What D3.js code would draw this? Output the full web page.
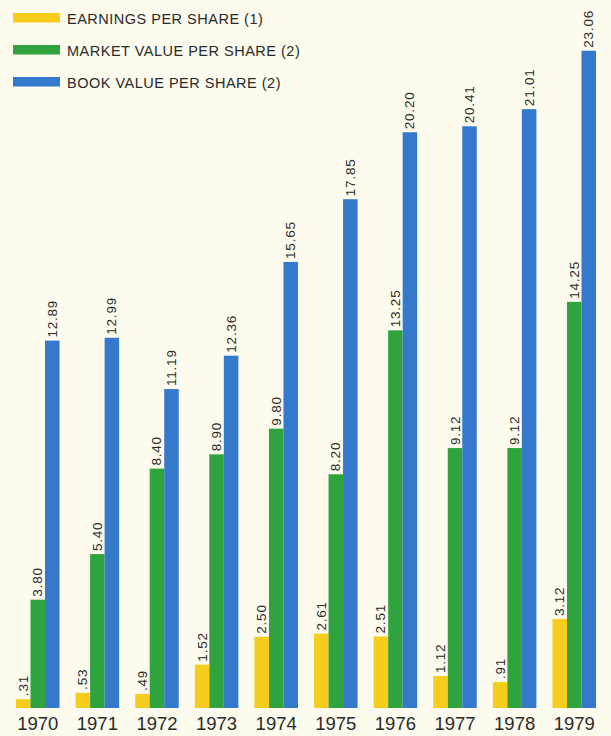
<!DOCTYPE html>
<html>
<head>
<meta charset="utf-8">
<script src="https://cdn.jsdelivr.net/npm/d3@7"></script>
<style>
  html, body { margin: 0; padding: 0; background: #fcfbee; }
  svg { display: block; }
  text { font-family: "Liberation Sans", Arial, Helvetica, sans-serif; fill: #2a2a2a; }
</style>
</head>
<body>
<svg id="chart" width="611" height="736"></svg>
<script>
// Per-share figures, 1970–1979
const years = ["1970", "1971", "1972", "1973", "1974", "1975", "1976", "1977", "1978", "1979"];
const earnings = [0.31, 0.53, 0.49, 1.52, 2.50, 2.61, 2.51, 1.12, 0.91, 3.12];
const marketValue = [3.80, 5.40, 8.40, 8.90, 9.80, 8.20, 13.25, 9.12, 9.12, 14.25];
const bookValue = [12.89, 12.99, 11.19, 12.36, 15.65, 17.85, 20.20, 20.41, 21.01, 23.06];
const earningsLabels = [".31", ".53", ".49", "1.52", "2.50", "2.61", "2.51", "1.12", ".91", "3.12"];
const marketLabels = ["3.80", "5.40", "8.40", "8.90", "9.80", "8.20", "13.25", "9.12", "9.12", "14.25"];
const bookLabels = ["12.89", "12.99", "11.19", "12.36", "15.65", "17.85", "20.20", "20.41", "21.01", "23.06"];
const seriesNames = ["EARNINGS PER SHARE (1)", "MARKET VALUE PER SHARE (2)", "BOOK VALUE PER SHARE (2)"];
const seriesColors = ["#f6cd1c", "#2ea33e", "#3479cb"];

const series = [
  { name: seriesNames[0], values: earnings, labels: earningsLabels, color: seriesColors[0] },
  { name: seriesNames[1], values: marketValue, labels: marketLabels, color: seriesColors[1] },
  { name: seriesNames[2], values: bookValue, labels: bookLabels, color: seriesColors[2] }
];

const svg = d3.select("#chart");
const baseline = 708;

const x0 = d3.scaleBand().domain(years).range([16, 596]).paddingInner(0.27).paddingOuter(0);
const x1 = d3.scaleBand().domain(d3.range(series.length)).range([0, x0.bandwidth()]).padding(0);
const y = d3.scaleLinear().domain([0, 24.84]).range([baseline, 0]);

const groups = svg.append("g").selectAll("g")
  .data(years)
  .join("g")
  .attr("transform", d => `translate(${x0(d)},0)`);

groups.each(function (yr, i) {
  const g = d3.select(this);
  series.forEach((s, k) => {
    const v = s.values[i];
    g.append("rect")
      .attr("x", x1(k))
      .attr("y", y(v))
      .attr("width", x1.bandwidth())
      .attr("height", y(0) - y(v))
      .attr("fill", s.color);
    const cx = x1(k) + x1.bandwidth() / 2;
    g.append("text")
      .attr("transform", `translate(${cx + 4.5},${y(v) - 3}) rotate(-90)`)
      .attr("text-anchor", "start")
      .style("font-size", "13.5px")
      .style("letter-spacing", "0.8px")
      .text(s.labels[i]);
  });
});

// Year axis beneath the baseline
const xAxis = d3.axisBottom(x0).tickSize(0).tickPadding(0);
const axisG = svg.append("g")
  .attr("transform", `translate(0,${baseline + 9})`)
  .call(xAxis);
axisG.select(".domain").remove();
axisG.selectAll("text")
  .attr("dy", "0.71em")
  .style("font-size", "18.5px")
  .attr("fill", "#2a2a2a");

// Legend
const legend = svg.append("g").selectAll("g")
  .data(series)
  .join("g")
  .attr("transform", (d, i) => `translate(13,${13 + i * 32})`);
legend.append("rect")
  .attr("width", 47)
  .attr("height", 9.5)
  .attr("fill", d => d.color);
legend.append("text")
  .attr("x", 54)
  .attr("y", 11)
  .style("font-size", "14.5px")
  .style("letter-spacing", "0.5px")
  .text(d => d.name);
</script>
</body>
</html>
